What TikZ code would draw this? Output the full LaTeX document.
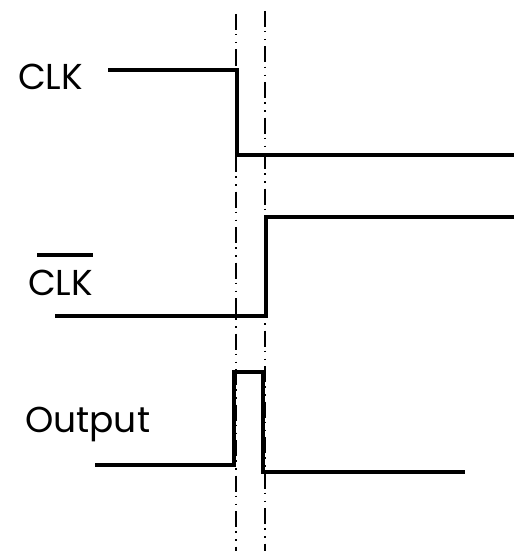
\documentclass[tikz,border=0pt]{standalone}
\usepackage{fontspec}
\setmainfont{Poppins}
\begin{document}
\begin{tikzpicture}[x=1pt,y=-1pt,
  wave/.style={line width=3.6pt,line join=miter,line cap=butt},
  guide/.style={line width=1.3pt,dash pattern=on 16pt off 4pt on 1.5pt off 6.5pt on 1.5pt off 6pt},
  lbl/.style={anchor=base west,inner sep=0pt,font=\fontsize{36}{40}\selectfont}]
\useasboundingbox (0,0) rectangle (514,551);
% guide lines
\coordinate (g1t) at (236,14);
\coordinate (g1b) at (236,551);
\coordinate (g2t) at (265,11);
\coordinate (g2b) at (265,551);
\draw[guide] (g1t) -- (g1b);
\draw[guide] (g2t) -- (g2b);
% labels
\node[lbl] (clk) at (18,89) {CLK};
\node[lbl] (nclk) at (28,295) {CLK};
\coordinate (barl) at (37,255);
\coordinate (barr) at (93,255);
\draw[line width=3.6pt] (barl) -- (barr);
\node[lbl] (out) at (25,432) {Output};
% CLK waveform
\coordinate (c0) at (108,70);
\coordinate (c1) at (237,70);
\coordinate (c2) at (237,155);
\coordinate (c3) at (514,155);
\draw[wave] (c0) -- (c1) -- (c2) -- (c3);
% CLK bar waveform
\coordinate (n0) at (55,316);
\coordinate (n1) at (266,316);
\coordinate (n2) at (266,217);
\coordinate (n3) at (514,217);
\draw[wave] (n0) -- (n1) -- (n2) -- (n3);
% Output waveform
\coordinate (o0) at (95,465);
\coordinate (o1) at (234,465);
\coordinate (o2) at (234,372);
\coordinate (o3) at (263,372);
\coordinate (o4) at (263,472);
\coordinate (o5) at (465,472);
\draw[wave] (o0) -- (o1) -- (o2) -- (o3) -- (o4) -- (o5);
\end{tikzpicture}
\end{document}
